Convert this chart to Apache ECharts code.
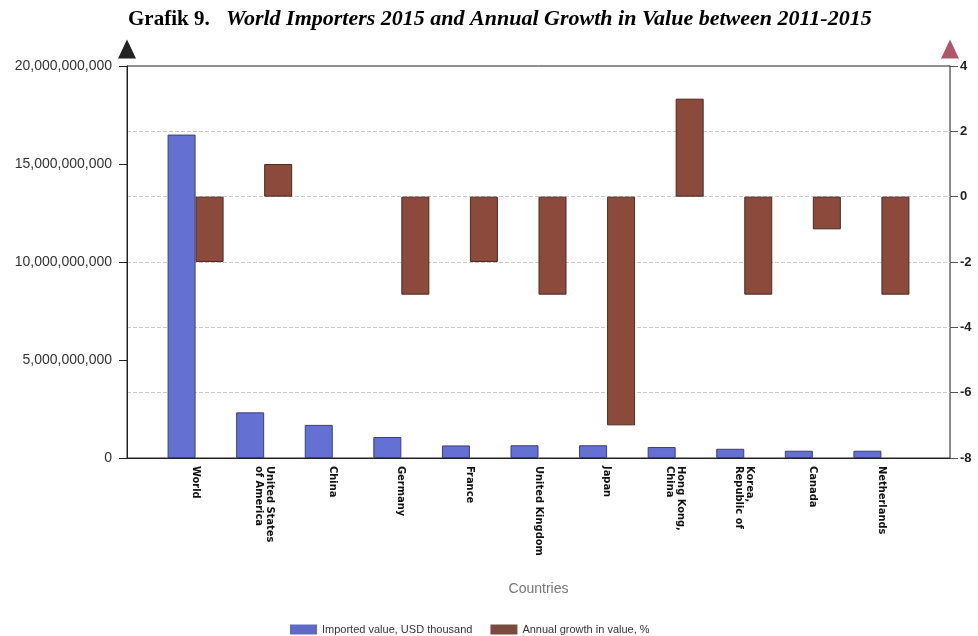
<!DOCTYPE html>
<html>
<head>
<meta charset="utf-8">
<script src="https://cdn.jsdelivr.net/npm/echarts@6/dist/echarts.min.js"></script>
<style>
  html, body { margin: 0; padding: 0; background: #fff; }
  #chart { width: 978px; height: 636px; }
</style>
</head>
<body>
<div id="chart"></div>
<script>
// Top importers in 2015 (USD thousand) and annual growth in value 2011-2015 (%)
const countries = [
  'World', 'United States\nof America', 'China', 'Germany', 'France',
  'United Kingdom', 'Japan', 'Hong Kong,\nChina', 'Korea,\nRepublic of',
  'Canada', 'Netherlands'
];
const importedValue = [
  16500000000, 2330000000, 1690000000, 1070000000, 640000000,
  650000000, 650000000, 560000000, 470000000, 370000000, 370000000
];
const annualGrowth = [-2, 1, 0, -3, -2, -3, -7, 3, -3, -1, -3];

const leftTicks = { min: 0, max: 20000000000, interval: 5000000000 };
const rightTicks = { min: -8, max: 4, interval: 2 };

const titleLead = 'Grafik 9.';
const titleMain = 'World Importers 2015 and Annual Growth in Value between 2011-2015';

// one empty slot on each side of the category axis
const cats = [''].concat(countries, ['']);
const pad = arr => [null].concat(arr, [null]);

const chart = echarts.init(document.getElementById('chart'));

const fmtThousands = v => String(v).replace(/\B(?=(\d{3})+(?!\d))/g, ',');

chart.setOption({
  animation: false,
  backgroundColor: '#ffffff',
  title: [
    {
      text: titleLead,
      left: 123,
      top: 4,
      textStyle: { fontFamily: 'Liberation Serif, serif', fontWeight: 'bold', fontSize: 21, color: '#000' }
    },
    {
      text: titleMain,
      left: 221,
      top: 3,
      textStyle: { fontFamily: 'Liberation Serif, serif', fontWeight: 'bold', fontStyle: 'italic', fontSize: 22, color: '#000' }
    }
  ],
  legend: {
    left: 285,
    top: 619,
    itemWidth: 27,
    itemHeight: 10,
    itemGap: 18,
    icon: 'rect',
    itemStyle: { borderWidth: 0 },
    textStyle: { fontFamily: 'Liberation Sans', fontSize: 11, color: '#333' },
    data: [
      { name: 'Imported value, USD thousand', itemStyle: { color: '#5e6bc6' } },
      { name: 'Annual growth in value, %', itemStyle: { color: '#7a4a40' } }
    ]
  },
  grid: {
    left: 127,
    right: 28,
    top: 66,
    bottom: 178,
    show: true,
    borderColor: '#222',
    borderWidth: 1,
    containLabel: false
  },
  xAxis: {
    type: 'category',
    data: cats,
    boundaryGap: false,
    name: 'Countries',
    nameLocation: 'middle',
    nameGap: 124,
    nameTextStyle: { fontFamily: 'Liberation Sans', fontSize: 14, color: '#777' },
    axisLine: { lineStyle: { color: '#222', width: 1 } },
    axisTick: { show: false },
    axisLabel: {
      rotate: -90,
      interval: 0,
      margin: 8,
      fontFamily: 'Liberation Sans Narrow, DejaVu Sans Condensed, Liberation Sans',
      fontWeight: 'bold',
      fontSize: 11,
      lineHeight: 11,
      color: '#111'
    },
    splitLine: { show: false }
  },
  yAxis: [
    {
      type: 'value',
      position: 'left',
      min: leftTicks.min,
      max: leftTicks.max,
      interval: leftTicks.interval,
      axisLine: {
        show: true,
        lineStyle: { color: '#222', width: 1 },
        symbol: ['none', 'triangle'],
        symbolSize: [18, 19],
        symbolOffset: [0, 17]
      },
      axisTick: { show: true, length: 8, lineStyle: { color: '#222' } },
      axisLabel: {
        margin: 15,
        fontFamily: 'Liberation Sans',
        fontSize: 14,
        color: '#333',
        formatter: fmtThousands
      },
      splitLine: { show: false }
    },
    {
      type: 'value',
      position: 'right',
      min: rightTicks.min,
      max: rightTicks.max,
      interval: rightTicks.interval,
      axisLine: { show: true, lineStyle: { color: '#8a8496', width: 1 } },
      axisTick: { show: true, length: 8, lineStyle: { color: '#555' } },
      axisLabel: {
        margin: 10,
        fontFamily: 'Liberation Sans',
        fontWeight: 'bold',
        fontSize: 13,
        color: '#222'
      },
      splitLine: {
        show: true,
        showMinLine: false,
        showMaxLine: false,
        lineStyle: { color: '#c8c8c8', type: 'dashed', width: 1 }
      }
    },
    {
      // arrow head of the growth axis
      type: 'value',
      position: 'right',
      min: rightTicks.min,
      max: rightTicks.max,
      interval: rightTicks.interval,
      axisLine: {
        show: true,
        lineStyle: { color: '#b0566a', width: 0 },
        symbol: ['none', 'triangle'],
        symbolSize: [18, 19],
        symbolOffset: [0, 17]
      },
      axisTick: { show: false },
      axisLabel: { show: false },
      splitLine: { show: false }
    }
  ],
  series: [
    {
      name: 'Imported value, USD thousand',
      type: 'bar',
      yAxisIndex: 0,
      barWidth: 28,
      barGap: '0%',
      data: pad(importedValue),
      itemStyle: { color: '#6470d2', borderColor: '#3b3f78', borderWidth: 1 }
    },
    {
      name: 'Annual growth in value, %',
      type: 'bar',
      yAxisIndex: 1,
      barWidth: 28,
      data: pad(annualGrowth).map(v => (v === 0 ? null : v)),
      itemStyle: { color: '#8c4a3c', borderColor: '#4a2a22', borderWidth: 1 }
    }
  ]
});
</script>
</body>
</html>
